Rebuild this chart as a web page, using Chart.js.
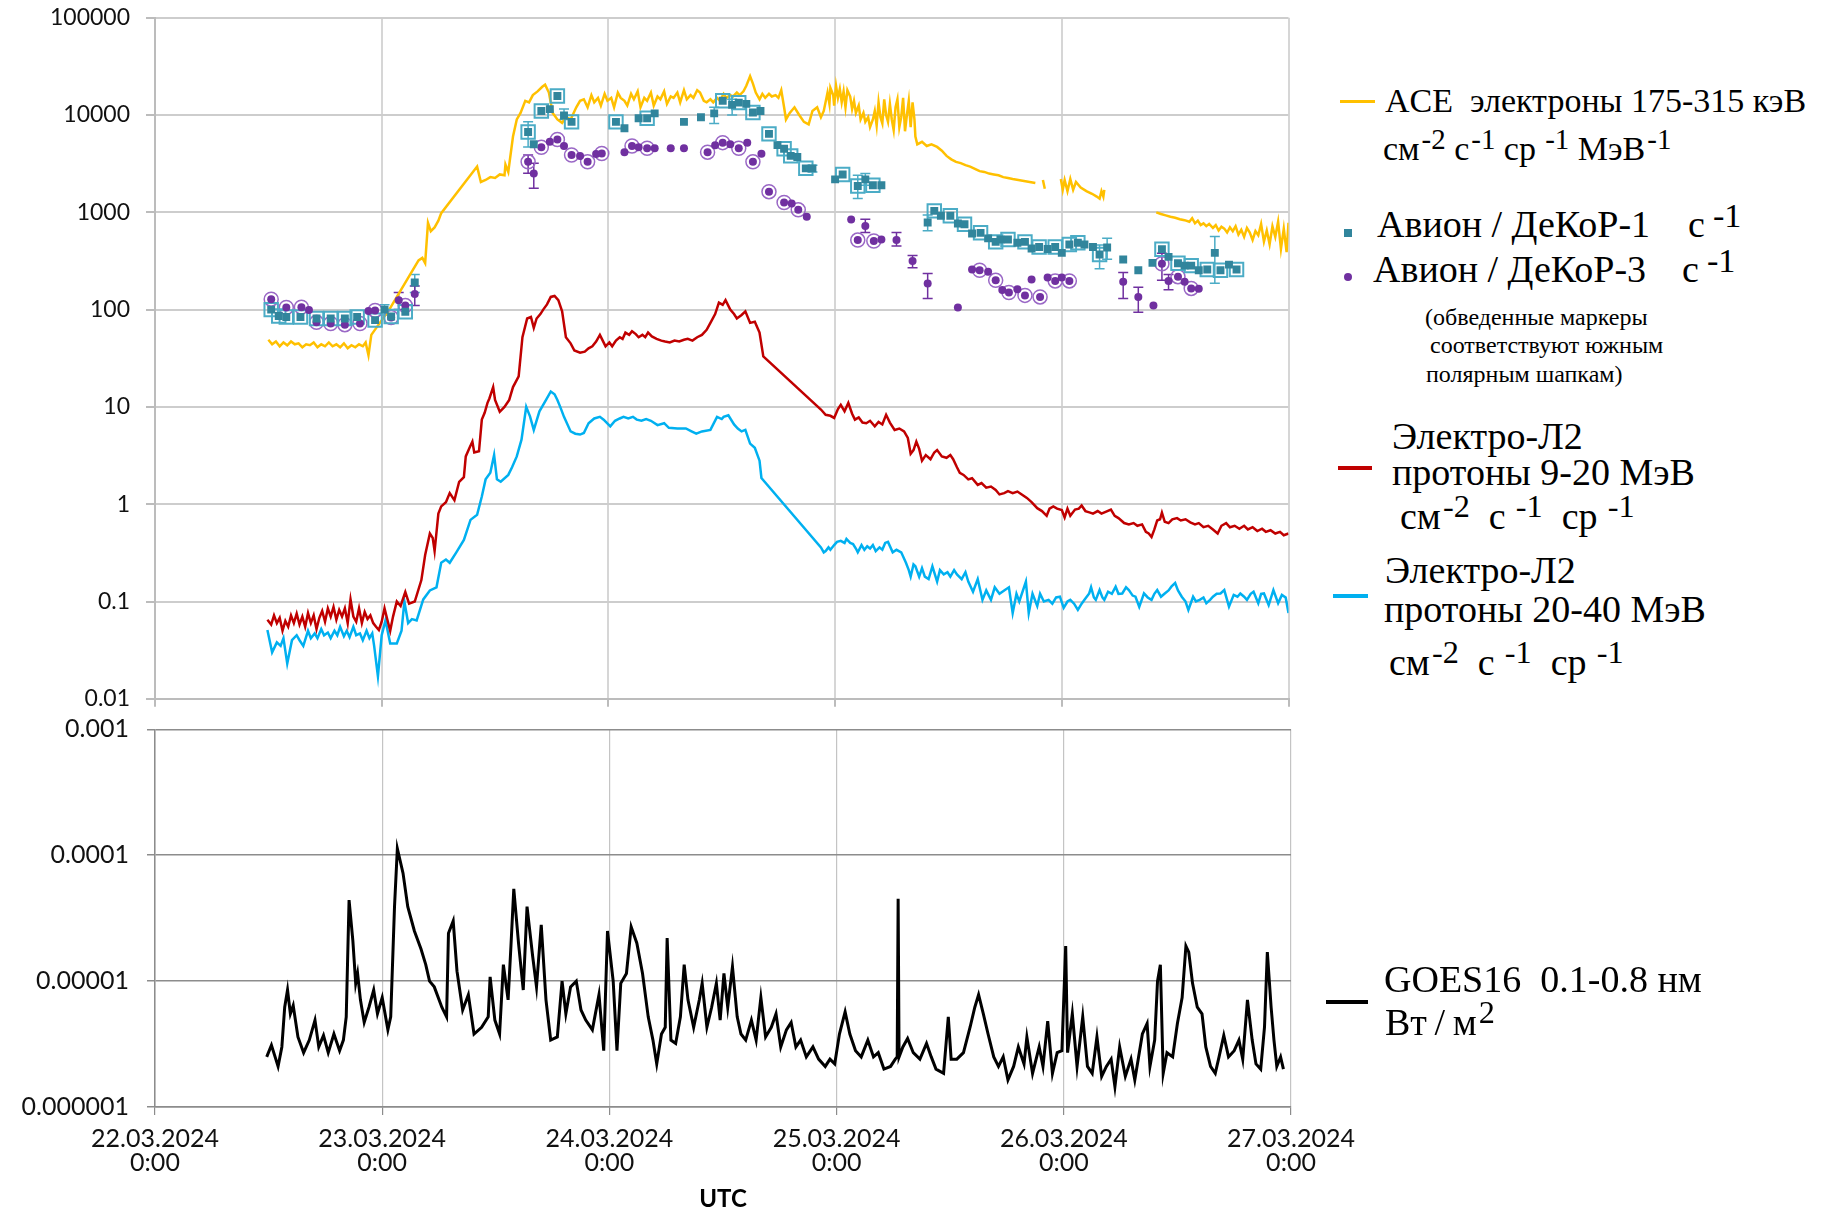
<!DOCTYPE html>
<html>
<head>
<meta charset="utf-8">
<script src="https://cdn.jsdelivr.net/npm/chart.js@4.4.1/dist/chart.umd.min.js"></script>
<style>
    body { margin: 0; background: #fff; width: 1824px; height: 1211px; position: relative; overflow: hidden; }
    canvas { position: absolute; left: 0; }
    #topChart { top: 0; }
    #bottomChart { top: 700px; }
    .lg { position: absolute; white-space: nowrap; line-height: 1; color: #000; font-family: "Liberation Serif", "Times New Roman", serif; }
    .lg sup { font-size: 0.85em; vertical-align: 0.36em; line-height: 0; margin-left: 2px; }
    .lg sup.big { font-size: 0.9em; vertical-align: 0.3em; margin-left: 8px; }
    .sw { position: absolute; }
</style>
</head>
<body>
<canvas id="topChart" width="1300" height="720"></canvas>
<canvas id="bottomChart" width="1420" height="511"></canvas>

<div class="sw" style="left:1340px;top:100px;width:35px;height:3px;background:#FFC000"></div>
<div class="lg" style="left:1385px;top:83.5px;font-size:34px">ACE&nbsp; электроны 175-315 кэВ</div>
<div class="lg" style="left:1383px;top:131.5px;font-size:34px">см<sup>-2</sup> с<sup>-1</sup> ср<sup>&nbsp;-1</sup> МэВ<sup>-1</sup></div>

<div class="sw" style="left:1344px;top:229px;width:8px;height:8px;background:#31859C"></div>
<div class="lg" style="left:1377px;top:205px;font-size:38px">Авион / ДеКоР-1<span style="margin-left:38px">с</span><sup class="big">-1</sup></div>
<div class="sw" style="left:1344px;top:273px;width:8px;height:8px;border-radius:50%;background:#7030A0"></div>
<div class="lg" style="left:1373px;top:250px;font-size:38px">Авион / ДеКоР-3<span style="margin-left:36px">с</span><sup class="big">-1</sup></div>
<div class="lg" style="left:1425px;top:305px;font-size:24px">(обведенные маркеры</div>
<div class="lg" style="left:1430px;top:333px;font-size:24px">соответствуют южным</div>
<div class="lg" style="left:1426px;top:362px;font-size:24px">полярным шапкам)</div>

<div class="sw" style="left:1338px;top:466px;width:34px;height:4px;background:#C00000"></div>
<div class="lg" style="left:1392px;top:417px;font-size:38px">Электро-Л2</div>
<div class="lg" style="left:1392px;top:453px;font-size:38px">протоны 9-20 МэВ</div>
<div class="lg" style="left:1400px;top:497px;font-size:38px">см<sup>-2</sup>&nbsp; с<sup>&nbsp;-1</sup>&nbsp; ср<sup>&nbsp;-1</sup></div>

<div class="sw" style="left:1333px;top:594px;width:35px;height:4px;background:#00B0F0"></div>
<div class="lg" style="left:1385px;top:551px;font-size:38px">Электро-Л2</div>
<div class="lg" style="left:1384px;top:590px;font-size:38px">протоны 20-40 МэВ</div>
<div class="lg" style="left:1389px;top:643px;font-size:38px">см<sup>-2</sup>&nbsp; с<sup>&nbsp;-1</sup>&nbsp; ср<sup>&nbsp;-1</sup></div>

<div class="sw" style="left:1326px;top:1000px;width:42px;height:4px;background:#000"></div>
<div class="lg" style="left:1384px;top:960px;font-size:38px">GOES16&nbsp; 0.1-0.8 нм</div>
<div class="lg" style="left:1385px;top:1003px;font-size:38px">Вт&thinsp;/&thinsp;м<sup>2</sup></div>

<script>
// time axis: hours since 22.03.2024 0:00 UTC
const hourTicks = [0, 24, 48, 72, 96, 120];
const dateLabels = [["22.03.2024", "0:00"], ["23.03.2024", "0:00"], ["24.03.2024", "0:00"],
    ["25.03.2024", "0:00"], ["26.03.2024", "0:00"], ["27.03.2024", "0:00"]];
const topTicks = [0.01, 0.1, 1, 10, 100, 1000, 10000, 100000];
const topTickLabels = ["0.01", "0.1", "1", "10", "100", "1000", "10000", "100000"];
const bottomTicks = [1e-6, 1e-5, 1e-4, 1e-3];
const bottomTickLabels = ["0.000001", "0.00001", "0.0001", "0.001"];

// ACE electrons 175-315 keV, [hour, flux]
const aceFlux = [[12.0,49],[12.4,44],[12.8,47],[13.2,42],[13.6,46],[14.0,43],[14.4,47],[14.8,44],[15.2,45],[15.6,41],[16.0,44],[16.4,43],[16.8,46],[17.2,41],[17.6,44],[18.0,42],[18.4,46],[18.8,42],[19.2,44],[19.6,41],[20.0,45],[20.4,40],[20.8,43],[21.2,41],[21.6,44],[22.0,42],[22.3,46],[22.6,34],[22.9,55],[24.8,100],[27.9,320],[28.3,340],[28.6,300],[28.9,780],[29.2,640],[29.6,700],[30.0,820],[30.3,980],[34.1,2950],[34.5,2050],[35.0,2150],[35.5,2300],[36.0,2250],[36.5,2450],[37.0,2400],[37.1,3100],[37.4,2600],[37.9,6000],[38.3,9000],[38.7,10500],[39.2,14000],[39.6,13500],[40.0,16000],[40.5,17500],[41.0,19500],[41.3,20500],[41.7,17000],[42.1,10500],[42.6,9000],[43.1,8300],[43.5,9500],[44.0,9000],[44.6,12000],[45.0,14000],[45.4,14500],[45.8,12000],
    [46.2,16000],[46.5,13500],[46.9,15000],[47.2,12500],[47.6,16500],[47.9,14000],[48.3,15000],[48.6,12000],[49.0,17000],[49.3,15000],[49.7,14000],[50.0,12500],[50.4,16500],[50.7,14500],[51.1,17500],[51.4,12000],[51.8,15000],[52.1,14000],[52.5,17000],[52.8,12500],[53.2,15500],[53.5,14500],[53.9,17500],[54.2,13000],[54.6,15500],[54.9,15000],[55.3,17000],[55.6,13500],[56.0,18000],[56.3,14500],[56.7,16000],[57.0,15000],[57.4,18000],[57.7,17000],[58.1,14000],[58.4,13500],[58.8,14500],[59.1,13500],[59.5,15000],[59.8,14000],[60.2,16500],[60.5,15000],[60.9,16000],[61.2,15500],[61.6,17000],[61.9,16000],[62.3,17500],[62.6,20000],[63.0,25000],[63.3,21000],[63.6,17000],[64.0,14500],[64.3,16500],[64.6,15000],[65.0,16500],[65.3,15500],[65.7,16000],[66.0,15000],[66.3,18000],[66.6,12000],[66.8,9000],[67.2,10500],[67.7,12000],[68.2,10000],[68.7,8500],[69.2,8000],[69.6,11000],[70.1,12000],[70.5,9500],[70.8,11000],
    [71.2,17000],[71.4,13000],[71.5,19000],[71.8,16000],[71.9,12500],[72.1,20000],[72.3,15000],[72.5,18500],[72.7,13500],[72.9,17500],[73.1,12000],[73.3,18000],[73.6,15500],[73.8,11500],[74.0,14000],[74.2,10500],[74.5,12500],[74.7,9000],[75.0,10500],[75.2,8500],[75.5,9500],[75.7,7500],[76.0,9000],[76.2,11000],[76.4,7800],[76.6,13500],[76.8,9500],[77.0,8200],[77.2,14500],[77.4,10000],[77.6,8500],[77.8,13000],[78.0,9000],[78.2,7000],[78.4,12000],[78.6,14500],[78.8,7500],[79.0,9500],[79.2,15000],[79.4,6800],[79.6,10000],[79.8,14000],[80.0,7500],[80.2,13500],[80.4,9000],[80.5,6000],
    [80.7,5000],[81.2,5300],[81.7,4800],[82.2,5000],[82.8,4700],[83.3,4300],[83.8,3800],[84.3,3500],[84.8,3300],[85.3,3200],[85.8,3050],[86.3,2950],[86.8,2800],[87.3,2650],[87.8,2600],[88.3,2500],[88.8,2450],[89.3,2400],[89.8,2300],[90.3,2250],[90.8,2200],[91.4,2150],[92.0,2100],[92.6,2050],[93.2,2000],[93.3,null],[94.0,2150],[94.2,1750],[94.3,null],[95.9,2200],[96.1,1700],[96.3,2150],[96.6,1650],[96.9,2200],[97.2,1700],[97.5,2050],[98.0,1800],[98.6,1650],[99.2,1550],[99.7,1450],[100.0,1380],[100.2,1650],[100.4,1450],[100.5,1700],[100.6,null],
    [106.0,1000],[106.5,960],[107.0,930],[107.5,900],[108.0,880],[108.5,850],[109.0,830],[109.5,800],[109.8,870],[110.1,770],[110.4,820],[110.7,740],[111.0,770],[111.3,720],[111.6,760],[112.0,690],[112.3,740],[112.6,650],[112.9,710],[113.2,680],[113.5,620],[113.8,700],[114.1,640],[114.4,720],[114.7,590],[115.0,660],[115.3,560],[115.6,690],[115.9,620],[116.2,520],[116.5,640],[116.8,580],[117.1,760],[117.4,500],[117.7,650],[118.0,470],[118.3,720],[118.6,560],[118.9,800],[119.2,420],[119.5,680],[119.8,390],[120.0,780]];

// Electro-L2 protons 9-20 MeV
const protons920 = [[11.9,0.065],[12.3,0.058],[12.6,0.072],[12.9,0.06],[13.2,0.068],[13.5,0.05],[13.8,0.063],[14.1,0.055],[14.4,0.072],[14.7,0.06],[15.0,0.075],[15.3,0.058],[15.6,0.07],[15.9,0.055],[16.2,0.076],[16.5,0.06],[16.8,0.072],[17.1,0.052],[17.4,0.068],[17.7,0.08],[18.0,0.062],[18.3,0.085],[18.6,0.07],[18.9,0.088],[19.2,0.065],[19.5,0.082],[19.8,0.07],[20.1,0.085],[20.4,0.06],[20.7,0.105],[21.0,0.07],[21.3,0.062],[21.6,0.085],[21.9,0.06],[22.2,0.078],[22.5,0.066],[22.8,0.072],[23.1,0.06],[23.4,0.055],[23.7,0.051],[24.0,0.062],[24.3,0.085],[24.6,0.065],[24.9,0.05],[25.2,0.07],[25.6,0.1],[26.0,0.09],[26.5,0.125],[26.9,0.095],[27.5,0.1],[28.2,0.166],[28.6,0.3],[29.1,0.5],[29.4,0.45],[29.6,0.33],[30.0,0.8],[30.3,0.95],[30.8,1.05],[31.2,1.3],[31.7,1.1],[32.2,1.7],[32.7,1.9],[32.9,3.1],[33.3,3.8],[33.6,4.4],[33.8,3.4],[34.3,3.5],[34.6,7.4],[34.9,8.7],[35.2,11],[35.4,12.2],[35.8,16],[36.0,11.8],[36.5,8.9],[37.0,10],[37.5,11.8],[37.9,16],[38.5,20.6],[38.9,52],[39.4,81],[39.8,84],[40.1,65],[40.4,81],[40.8,90],[41.1,100],[41.5,113],[41.9,135],[42.3,138],[42.7,125],[43.1,96],[43.5,52],[44.0,45],[44.4,38],[45.0,36],[45.5,37],[45.9,40],[46.3,42],[46.7,47],[47.1,55],[47.4,48],[47.7,42],[48.1,46],[48.4,42],[48.8,48],[49.2,52],[49.5,50],[49.8,58],[50.2,55],[50.5,60],[50.9,56],[51.2,52],[51.6,55],[51.9,52],[52.2,58],[52.6,53],[53.1,50],[53.6,48],[54.0,47],[54.5,46],[55.0,48],[55.5,47],[56.0,49],[56.4,50],[56.9,48],[57.4,52],[57.9,55],[58.4,62],[58.8,73],[59.3,90],[59.7,118],[60.1,112],[60.4,125],[60.9,100],[61.3,90],[61.6,81],[62.1,88],[62.5,96],[63.0,73],[63.5,75],[64.0,58],[64.4,33],
    [70.5,9.4],[71.0,8.3],[71.5,8.1],[71.9,7.7],[72.3,9.5],[72.6,10.5],[73.0,9.0],[73.4,11],[73.8,8.5],[74.1,7.4],[74.5,7.8],[74.9,6.9],[75.3,6.8],[75.7,7.2],[76.2,6.3],[76.6,7.0],[77.0,6.6],[77.4,8.3],[77.8,6.9],[78.3,5.8],[78.8,6.0],[79.3,5.6],[79.7,4.8],[80.0,3.3],[80.3,3.6],[80.6,4.4],[80.9,3.7],[81.2,2.8],[81.6,3.2],[82.1,2.9],[82.5,3.4],[82.8,3.6],[83.3,3.1],[83.8,3.0],[84.2,3.2],[84.5,2.9],[84.9,2.4],[85.2,2.1],[85.6,2.0],[86.1,1.8],[86.5,1.85],[87.1,1.58],[87.5,1.65],[88.0,1.48],[88.5,1.52],[89.0,1.4],[89.4,1.26],[89.9,1.3],[90.3,1.36],[90.8,1.3],[91.3,1.35],[91.8,1.25],[92.3,1.16],[92.8,1.05],[93.4,0.91],[93.9,0.85],[94.4,0.76],[94.7,0.9],[95.1,0.95],[95.5,0.9],[96.0,0.87],[96.3,0.73],[96.6,0.9],[96.9,0.76],[97.4,0.88],[97.8,0.9],[98.1,0.97],[98.5,0.85],[99.0,0.82],[99.3,0.8],[99.8,0.85],[100.2,0.8],[100.7,0.84],[101.2,0.88],[101.6,0.76],[102.0,0.72],[102.6,0.64],[103.1,0.62],[103.6,0.64],[104.0,0.6],[104.5,0.62],[104.9,0.52],[105.2,0.5],[105.5,0.46],[105.8,0.55],[106.1,0.68],[106.4,0.7],[106.6,0.82],[106.9,0.66],[107.3,0.64],[107.7,0.7],[108.2,0.72],[108.6,0.68],[109.1,0.7],[109.6,0.65],[110.1,0.62],[110.5,0.64],[111.0,0.58],[111.5,0.6],[112.0,0.55],[112.5,0.5],[112.9,0.6],[113.4,0.64],[113.8,0.58],[114.3,0.6],[114.8,0.56],[115.3,0.6],[115.7,0.55],[116.2,0.58],[116.7,0.53],[117.2,0.56],[117.6,0.52],[118.1,0.54],[118.6,0.5],[119.1,0.52],[119.5,0.48],[120.0,0.5]];

// Electro-L2 protons 20-40 MeV
const protons2040 = [[11.9,0.051],[12.4,0.03],[12.9,0.038],[13.3,0.035],[13.6,0.042],[14.0,0.023],[14.5,0.04],[15.0,0.045],[15.3,0.04],[15.7,0.035],[16.2,0.05],[16.5,0.042],[16.9,0.047],[17.2,0.042],[17.6,0.052],[17.9,0.045],[18.3,0.048],[18.6,0.042],[19.0,0.05],[19.3,0.045],[19.6,0.055],[20.0,0.044],[20.3,0.05],[20.6,0.043],[21.0,0.055],[21.3,0.045],[21.7,0.047],[22.0,0.04],[22.4,0.05],[22.7,0.042],[23.0,0.047],[23.2,0.035],[23.6,0.017],[24.0,0.045],[24.4,0.064],[24.9,0.037],[25.6,0.037],[26.1,0.05],[26.4,0.1],[26.8,0.06],[27.2,0.066],[27.7,0.064],[28.4,0.105],[29.1,0.13],[29.8,0.14],[30.3,0.25],[30.8,0.27],[31.2,0.25],[31.9,0.32],[32.7,0.43],[33.4,0.69],[34.1,0.78],[34.6,1.2],[35.0,1.8],[35.5,2.1],[35.9,3.2],[36.2,1.8],[36.6,1.7],[37.4,2.0],[37.8,2.4],[38.3,3.1],[38.8,4.6],[39.3,10],[39.7,8],[40.1,5.8],[40.7,9],[41.4,11.8],[41.9,14.4],[42.3,13.5],[42.6,11.8],[42.9,10],[43.3,7.9],[44.0,5.6],[44.5,5.3],[45.0,5.2],[45.4,5.4],[45.9,6.8],[46.5,7.6],[47.1,7.9],[47.5,7.4],[48.2,6.3],[48.7,7.2],[49.2,7.6],[49.6,7.9],[50.1,7.6],[50.6,7.9],[51.0,7.4],[51.5,7.2],[52.0,7.5],[52.5,7.2],[53.2,6.5],[53.9,6.8],[54.4,6.1],[55.3,6.0],[56.2,6.0],[56.8,5.6],[57.3,5.3],[57.9,5.6],[58.8,5.8],[59.5,7.9],[60.0,7.5],[60.2,7.9],[60.7,8.2],[61.3,6.6],[61.7,6.0],[62.1,5.6],[62.5,5.8],[63.0,4.2],[63.5,3.8],[64.0,2.8],[64.2,1.86],
    [70.5,0.36],[70.8,0.32],[71.0,0.33],[71.3,0.36],[71.5,0.34],[71.9,0.38],[72.2,0.41],[72.6,0.42],[73.0,0.4],[73.2,0.44],[73.6,0.4],[73.9,0.39],[74.2,0.35],[74.4,0.32],[74.8,0.38],[75.1,0.34],[75.4,0.37],[75.7,0.35],[76.0,0.38],[76.3,0.33],[76.7,0.36],[77.0,0.34],[77.3,0.4],[77.6,0.41],[78.1,0.32],[78.5,0.34],[79.0,0.32],[79.5,0.25],[79.8,0.21],[80.0,0.18],[80.3,0.24],[80.5,0.23],[80.9,0.18],[81.2,0.22],[81.5,0.18],[81.9,0.17],[82.3,0.23],[82.8,0.16],[83.1,0.21],[83.5,0.19],[83.9,0.2],[84.2,0.18],[84.6,0.21],[84.9,0.19],[85.4,0.17],[85.8,0.2],[86.1,0.16],[86.6,0.126],[87.1,0.17],[87.6,0.104],[88.0,0.13],[88.5,0.104],[88.9,0.14],[89.4,0.12],[89.9,0.13],[90.4,0.14],[90.8,0.076],[91.2,0.12],[91.5,0.1],[92.2,0.16],[92.5,0.076],[92.9,0.12],[93.4,0.09],[93.7,0.12],[94.1,0.1],[94.6,0.104],[95.0,0.095],[95.4,0.11],[95.8,0.112],[96.2,0.086],[96.6,0.1],[96.9,0.104],[97.3,0.095],[97.7,0.082],[98.1,0.095],[98.4,0.104],[98.9,0.121],[99.1,0.14],[99.4,0.11],[99.6,0.104],[100.0,0.131],[100.3,0.11],[100.5,0.104],[100.9,0.126],[101.3,0.12],[101.7,0.142],[102.0,0.12],[102.4,0.121],[102.8,0.14],[103.1,0.131],[103.5,0.115],[103.8,0.112],[104.2,0.088],[104.7,0.121],[105.1,0.11],[105.5,0.104],[105.8,0.12],[106.1,0.131],[106.5,0.112],[106.9,0.121],[107.3,0.13],[107.6,0.142],[108.0,0.155],[108.3,0.13],[108.7,0.112],[109.1,0.1],[109.4,0.082],[109.9,0.112],[110.2,0.1],[110.6,0.104],[111.0,0.11],[111.3,0.096],[111.7,0.104],[112.0,0.112],[112.4,0.12],[112.8,0.121],[113.2,0.131],[113.7,0.0885],[114.2,0.117],[114.6,0.112],[114.9,0.121],[115.3,0.112],[115.6,0.104],[116.0,0.12],[116.3,0.126],[116.8,0.096],[117.1,0.12],[117.4,0.121],[117.9,0.092],[118.4,0.131],[118.9,0.096],[119.3,0.117],[119.7,0.11],[120.0,0.076]];

// Avion / DeKoR count rates: [hour, rate, south polar cap (1 = circled marker)]
const decor1 = [[12.3,100,1],[13.1,86,1],[13.9,84,1],[15.4,84,1],[17.1,81,1],[18.6,81,1],[20.1,81,1],[21.4,84,1],[23.3,78,1],[24.3,100,0],[25.0,85,1],[26.5,95,1],[27.5,190,0],
    [39.5,6700,1],[40.1,5000,0],[40.9,11000,1],[41.8,11500,0],[42.6,15700,1],[43.3,9900,0],[44.1,8500,1],
    [48.8,8500,1],[49.7,7300,0],[51.2,9250,0],[52.1,9250,1],[52.9,10400,0],[56.0,8500,0],[57.8,9500,0],[59.2,10400,0],[60.1,14000,1],[61.1,12700,0],[61.8,13400,1],[62.6,13000,0],[63.3,10600,1],[64.1,11000,0],
    [65.0,6400,1],[65.9,4900,0],[66.6,4500,1],[67.3,3800,1],[68.0,3700,0],[68.9,2830,1],[69.6,2830,0],
    [72.0,2180,0],[72.8,2450,1],[74.4,1860,1],[75.2,2180,0],[76.0,1900,1],[76.9,1900,0],
    [81.8,785,0],[82.5,1035,1],[83.2,920,0],[84.2,920,1],[85.0,767,0],[85.7,755,1],[86.5,605,0],[87.4,615,1],[88.2,540,0],[89.0,497,1],[89.5,525,0],[90.3,525,1],[91.3,487,0],[92.1,497,1],[92.8,425,0],[93.6,440,1],[94.5,420,0],[95.3,440,1],[96.0,383,0],[96.8,466,1],[97.7,487,1],[98.4,466,0],[99.3,440,0],[100.0,368,1],[100.8,435,0],
    [102.5,327,0],[104.1,254,0],[105.6,302,0],[106.6,418,1],[107.3,348,0],[108.3,300,1],[109.0,283,0],[109.7,283,1],[110.5,254,0],[111.4,258,1],[112.2,383,0],[112.8,254,1],[113.7,290,0],[114.5,258,1]];
const decor3 = [[12.3,128,1],[13.9,105,1],[15.5,106,1],[16.3,99,0],[17.1,74,1],[18.6,72,1],[20.1,70,1],[21.7,72,1],[22.6,97,0],[23.3,98,1],[25.0,83,1],[25.8,125,0],[26.5,110,1],[27.5,145,0],
    [39.5,3300,1],[40.1,2500,0],[40.9,4650,1],[41.8,5300,0],[42.6,5600,1],[43.3,4800,0],[44.1,3880,1],[45.0,3800,0],[45.8,3300,1],[46.7,3980,0],[47.3,4020,1],
    [49.7,4150,0],[50.5,4800,1],[51.2,4650,0],[52.1,4550,1],[52.9,4550,0],[54.6,4550,0],[56.0,4550,0],[58.5,4150,1],[59.3,4900,0],[60.1,5200,1],[60.9,5000,0],[61.8,4550,1],[62.7,5200,0],[63.3,3300,1],[64.2,4000,0],
    [65.0,1630,1],[66.6,1260,1],[67.4,1230,0],[68.1,1060,1],[69.0,900,0],
    [73.7,845,0],[74.4,518,1],[75.2,725,0],[76.1,507,1],[76.9,525,0],[78.5,518,0],[80.2,316,0],[81.8,185,0],[85.0,105,0],
    [86.5,258,0],[87.3,254,1],[88.2,245,0],[89.0,200,1],[89.7,159,0],[90.4,150,1],[91.3,162,0],[92.1,140,1],[92.8,204,0],[93.7,135,1],[94.5,214,0],[95.3,197,1],[96.0,214,0],[96.8,197,1],
    [102.5,193,0],[104.1,135,0],[105.7,110,0],[106.6,296,1],[107.3,197,0],[108.3,218,1],[109.0,193,0],[109.7,165,1],[110.5,164,0]];
// error bars: [hour, low, high]
const decor1Err = [[24.3,88,112],[27.5,150,230],[39.5,4700,8500],[43.3,9000,11500],[59.2,8200,12000],[61.1,10000,14500],[69.6,2600,3050],[74.4,1390,2410],[75.2,1900,2500],[81.8,645,940],[100.0,263,460],[100.8,330,540],[112.2,187,565]];
const decor3Err = [[25.8,100,150],[27.5,110,175],[39.5,2520,3880],[40.1,1770,3200],[75.2,620,850],[78.5,450,620],[80.2,270,360],[81.8,130,235],[102.5,130,240],[104.1,94,170],[106.6,200,380],[107.3,160,230]];

// GOES-16 X-ray flux 0.1-0.8 nm, W/m^2
const goesFlux = [[11.8,2.5e-6],[12.3,3.1e-6],[13.0,2.1e-6],[13.4,3.0e-6],[13.7,6.2e-6],[14.0,8.5e-6],[14.3,5.5e-6],[14.6,6.4e-6],[15.1,3.6e-6],[15.7,2.7e-6],[16.3,3.4e-6],[16.9,4.9e-6],[17.3,3.0e-6],[17.8,3.7e-6],[18.3,2.7e-6],[18.9,3.8e-6],[19.5,2.8e-6],[19.9,3.4e-6],[20.2,5.2e-6],[20.5,4.4e-5],[20.9,2.1e-5],[21.2,9.6e-6],[21.4,1.15e-5],[21.7,7.1e-6],[22.1,4.7e-6],[22.6,6.2e-6],[23.1,8.5e-6],[23.5,5.5e-6],[24.0,7.4e-6],[24.6,4.1e-6],[24.9,5.2e-6],[25.3,3.9e-5],[25.6,1.13e-4],[26.2,7.2e-5],[26.7,3.9e-5],[27.4,2.5e-5],[28.1,1.8e-5],[28.6,1.35e-5],[29.0,1.0e-5],[29.5,9e-6],[30.3,6.2e-6],[30.8,5.2e-6],[31.0,2.4e-5],[31.5,3.0e-5],[31.9,1.2e-5],[32.5,5.9e-6],[33.1,7.8e-6],[33.7,3.8e-6],[34.5,4.3e-6],[35.2,5.2e-6],[35.4,1.08e-5],[35.9,4.9e-6],[36.4,3.8e-6],[36.8,1.35e-5],[37.3,7.1e-6],[37.6,1.9e-5],[37.9,5.4e-5],[38.4,2.0e-5],[38.9,8.5e-6],[39.3,3.9e-5],[39.9,1.56e-5],[40.3,9e-6],[40.8,2.8e-5],[41.3,7.1e-6],[41.8,3.4e-6],[42.5,3.6e-6],[43.0,1.0e-5],[43.4,5.5e-6],[43.9,9e-6],[44.5,1e-5],[45.0,5.9e-6],[45.5,4.9e-6],[46.2,4.1e-6],[46.9,7.8e-6],[47.4,2.8e-6],[47.8,2.5e-5],[48.4,1e-5],[48.8,2.8e-6],[49.2,9.6e-6],[49.8,1.15e-5],[50.3,2.7e-5],[50.9,2.0e-5],[51.5,1.15e-5],[52.1,5.2e-6],[52.6,3.4e-6],[53.0,2.2e-6],[53.5,3.8e-6],[53.9,4.3e-6],[54.1,2.2e-5],[54.5,3.4e-6],[55.0,3.2e-6],[55.5,5.2e-6],[55.9,1.35e-5],[56.3,7.1e-6],[56.9,4.3e-6],[57.5,7.1e-6],[57.8,9.6e-6],[58.3,4.3e-6],[58.8,6.2e-6],[59.3,9.6e-6],[59.7,4.9e-6],[60.1,1.15e-5],[60.5,6.2e-6],[61.0,1.3e-5],[61.5,5.2e-6],[61.9,3.8e-6],[62.4,3.4e-6],[63.0,4.9e-6],[63.5,3.4e-6],[64.0,7.4e-6],[64.5,3.6e-6],[65.1,4.3e-6],[65.6,5.5e-6],[66.1,3.0e-6],[66.7,4.1e-6],[67.2,4.7e-6],[67.7,3.0e-6],[68.2,3.4e-6],[68.8,2.5e-6],[69.5,3.0e-6],[70.1,2.4e-6],[70.8,2.1e-6],[71.3,2.4e-6],[71.8,2.2e-6],[72.3,3.8e-6],[72.9,5.7e-6],[73.4,3.8e-6],[74.0,2.8e-6],[74.6,2.5e-6],[75.3,3.4e-6],[75.9,2.5e-6],[76.4,2.7e-6],[77.0,2.0e-6],[77.7,2.1e-6],[78.2,2.4e-6],[78.4,2.5e-6],[78.5,4.5e-5],[78.6,2.5e-6],[79.0,3.0e-6],[79.5,3.5e-6],[80.1,2.7e-6],[80.8,2.4e-6],[81.5,3.2e-6],[82.0,2.5e-6],[82.5,2.0e-6],[83.3,1.85e-6],[83.8,5.2e-6],[84.1,2.4e-6],[84.7,2.4e-6],[85.4,2.7e-6],[86.1,4.3e-6],[86.6,6.2e-6],[87.0,7.8e-6],[87.5,5.5e-6],[88.0,3.8e-6],[88.6,2.5e-6],[89.1,2.1e-6],[89.6,2.5e-6],[90.1,1.64e-6],[90.7,2.1e-6],[91.2,3.0e-6],[91.8,2.2e-6],[92.1,3.6e-6],[92.7,1.85e-6],[93.4,3.0e-6],[93.8,2.1e-6],[94.3,4.8e-6],[94.8,1.85e-6],[95.3,2.7e-6],[95.8,2.8e-6],[96.2,1.9e-5],[96.4,2.7e-6],[96.9,5.5e-6],[97.4,2.1e-6],[98.0,5.2e-6],[98.5,2.1e-6],[99.0,1.85e-6],[99.5,3.6e-6],[100.0,1.75e-6],[100.5,2.1e-6],[101.0,2.4e-6],[101.4,1.45e-6],[101.9,3.0e-6],[102.5,1.75e-6],[103.1,2.4e-6],[103.5,1.64e-6],[103.9,2.5e-6],[104.3,3.8e-6],[104.8,4.6e-6],[105.1,2.1e-6],[105.6,3.4e-6],[105.9,1.0e-5],[106.2,1.35e-5],[106.5,1.85e-6],[106.9,2.7e-6],[107.5,2.5e-6],[108.0,4.6e-6],[108.5,7.4e-6],[108.9,1.9e-5],[109.2,1.7e-5],[109.6,9.6e-6],[110.1,6.2e-6],[110.6,5.5e-6],[111.0,3.0e-6],[111.5,2.1e-6],[112.0,1.85e-6],[112.4,2.5e-6],[112.9,3.7e-6],[113.4,2.5e-6],[114.0,2.8e-6],[114.5,3.4e-6],[114.9,2.4e-6],[115.4,7.1e-6],[115.9,3.4e-6],[116.3,2.2e-6],[116.8,2.0e-6],[117.2,4.3e-6],[117.5,1.7e-5],[117.9,6.2e-6],[118.2,3.4e-6],[118.5,2.1e-6],[118.9,2.5e-6],[119.2,2.0e-6]];

const toPoints = arr => arr.map(p => ({ x: p[0], y: p[1] }));
const tickFont = size => ({ family: "Lato", size: size });

// keep the end labels from pushing the plot area inwards
const fixYAxis = axis => {
    axis.width = 155;
    axis.paddingTop = 12;
    axis.paddingBottom = 12;
};

const errorBars = {
    id: "errorBars",
    beforeDatasetsDraw(chart) {
        const { ctx, scales: { x, y } } = chart;
        ctx.save();
        ctx.lineWidth = 1.5;
        [[decor1Err, "#4BACC6"], [decor3Err, "#7030A0"]].forEach(([list, color]) => {
            ctx.strokeStyle = color;
            list.forEach(([h, lo, hi]) => {
                const px = x.getPixelForValue(h);
                const yLo = y.getPixelForValue(lo);
                const yHi = y.getPixelForValue(hi);
                ctx.beginPath();
                ctx.moveTo(px, yLo); ctx.lineTo(px, yHi);
                ctx.moveTo(px - 5, yLo); ctx.lineTo(px + 5, yLo);
                ctx.moveTo(px - 5, yHi); ctx.lineTo(px + 5, yHi);
                ctx.stroke();
            });
        });
        ctx.restore();
    }
};

const lineSet = (data, color, width) => ({
    data: toPoints(data), showLine: true, borderColor: color, borderWidth: width,
    pointRadius: 0, tension: 0, spanGaps: false
});

new Chart(document.getElementById("topChart").getContext("2d"), {
    type: "scatter",
    data: {
        datasets: [
            { data: toPoints(decor1), pointStyle: "rect", pointRadius: 5.6, pointBackgroundColor: "#31859C", pointBorderWidth: 0 },
            { data: toPoints(decor3), pointStyle: "circle", pointRadius: 4, pointBackgroundColor: "#7030A0", pointBorderWidth: 0 },
            { data: toPoints(decor1.filter(p => p[2])), pointStyle: "rect", pointRadius: 9.5,
              pointBackgroundColor: "rgba(0,0,0,0)", pointBorderColor: "#4BACC6", pointBorderWidth: 2 },
            { data: toPoints(decor3.filter(p => p[2])), pointStyle: "circle", pointRadius: 7,
              pointBackgroundColor: "rgba(0,0,0,0)", pointBorderColor: "#9A68C6", pointBorderWidth: 1.5 },
            lineSet(aceFlux, "#FFC000", 2.5),
            lineSet(protons920, "#C00000", 2.5),
            lineSet(protons2040, "#00B0F0", 2.5)
        ]
    },
    options: {
        responsive: false,
        animation: false,
        events: [],
        layout: { padding: { top: 17.7, right: 9, bottom: 0, left: 0 } },
        plugins: { legend: { display: false }, tooltip: { enabled: false } },
        scales: {
            x: {
                type: "linear", min: 0, max: 120,
                afterBuildTicks: axis => { axis.ticks = hourTicks.map(v => ({ value: v })); },
                afterFit: axis => { axis.height = 21.2; },
                ticks: { display: false },
                grid: { color: "#d6d6d6", lineWidth: 2, tickLength: 8, tickColor: "#bcbcbc" },
                border: { color: "#bcbcbc", width: 2 }
            },
            y: {
                type: "logarithmic", min: 0.01, max: 100000,
                afterBuildTicks: axis => { axis.ticks = topTicks.map(v => ({ value: v })); },
                afterFit: fixYAxis,
                ticks: { font: tickFont(23), color: "#111", padding: 16, callback: (v, i) => topTickLabels[i] },
                grid: { color: "#cdcdcd", lineWidth: 2, tickLength: 9, tickColor: "#bcbcbc" },
                border: { color: "#bcbcbc", width: 2 }
            }
        }
    },
    plugins: [errorBars]
});

new Chart(document.getElementById("bottomChart").getContext("2d"), {
    type: "scatter",
    data: { datasets: [lineSet(goesFlux, "#000000", 3)] },
    options: {
        responsive: false,
        animation: false,
        events: [],
        layout: { padding: { top: 29.3, right: 129, bottom: 0, left: 0 } },
        plugins: { legend: { display: false }, tooltip: { enabled: false } },
        scales: {
            x: {
                type: "linear", min: 0, max: 120,
                afterBuildTicks: axis => { axis.ticks = hourTicks.map(v => ({ value: v })); },
                afterFit: axis => { axis.height = 104; },
                ticks: { font: { family: "Lato", size: 25, lineHeight: 0.95 }, color: "#111", padding: 12,
                         autoSkip: false, maxRotation: 0, callback: (v, i) => dateLabels[i] },
                grid: { color: "#c4c4c4", lineWidth: 1.2, tickLength: 8, tickColor: "#8c8c8c" },
                border: { color: "#8c8c8c", width: 1.5 },
                title: { display: true, text: "UTC", color: "#000", padding: { top: 0, bottom: -3 },
                         font: { family: "Lato", size: 24, weight: "bold" } }
            },
            y: {
                type: "logarithmic", min: 1e-6, max: 1e-3,
                afterBuildTicks: axis => { axis.ticks = bottomTicks.map(v => ({ value: v })); },
                afterFit: fixYAxis,
                ticks: { font: tickFont(25), color: "#111", padding: 18, callback: (v, i) => bottomTickLabels[i] },
                grid: { color: "#8c8c8c", lineWidth: 1.5, tickLength: 8, tickColor: "#8c8c8c" },
                border: { color: "#8c8c8c", width: 1.5 }
            }
        }
    }
});
</script>
</body>
</html>
